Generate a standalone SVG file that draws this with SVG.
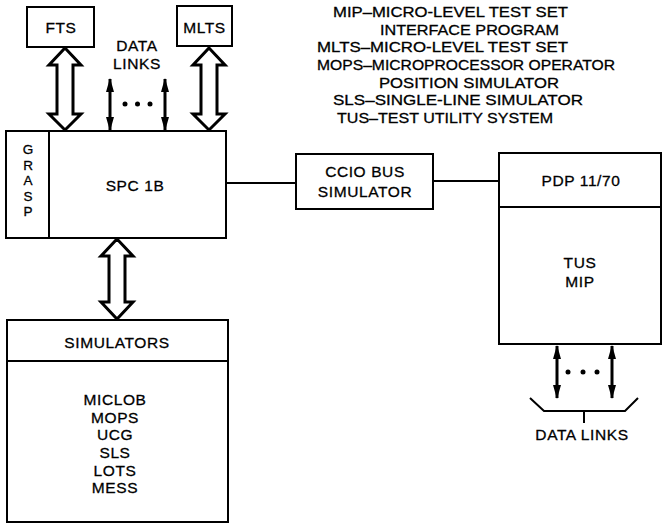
<svg xmlns="http://www.w3.org/2000/svg" width="662" height="524" viewBox="0 0 662 524">
<defs>
<marker id="ah" viewBox="0 0 14 9" refX="13" refY="4.5" markerWidth="14" markerHeight="9" markerUnits="userSpaceOnUse" orient="auto-start-reverse">
<path d="M0,0.5 L14,4.5 L0,8.5 Z" fill="#000"/>
</marker>
</defs>
<style>
.box{fill:#fff;stroke:#000;stroke-width:2}
.ln{fill:none;stroke:#000;stroke-width:2}
.harrow{fill:#fff;stroke:#000;stroke-width:3;stroke-linejoin:miter}
.dl{stroke:#000;stroke-width:3;fill:none}
text{font-family:"Liberation Sans",Arial,sans-serif;font-size:15.5px;letter-spacing:0.6px;fill:#000;stroke:#000;stroke-width:0.3}
.c{text-anchor:middle}
.g{font-size:13.5px;letter-spacing:0}
.lg{font-size:15px;letter-spacing:0}
.dot{fill:#000}
</style>
<rect width="662" height="524" fill="#fff"/>

<g id="connectors">
<path class="harrow" d="M65,48 L81,65 L73,65 L73,114 L81,114 L65,130 L49,114 L57,114 L57,65 L49,65 Z"/>
<path class="harrow" d="M209,48 L225,65 L217,65 L217,114 L225,114 L209,130 L193,114 L201,114 L201,65 L193,65 Z"/>
<path class="harrow" d="M117,239 L133,256 L125,256 L125,302 L133,302 L117,319 L101,302 L109,302 L109,256 L101,256 Z"/>
<line class="dl" x1="110" y1="79" x2="110" y2="130" marker-start="url(#ah)" marker-end="url(#ah)"/>
<line class="dl" x1="165" y1="79" x2="165" y2="130" marker-start="url(#ah)" marker-end="url(#ah)"/>
<circle class="dot" cx="125" cy="104" r="2.5"/>
<circle class="dot" cx="137.5" cy="104" r="2.5"/>
<circle class="dot" cx="150" cy="104" r="2.5"/>
<line class="ln" x1="226" y1="183" x2="296" y2="183"/>
<line class="ln" x1="433" y1="181" x2="499" y2="181"/>
<line class="dl" x1="557" y1="346" x2="557" y2="398" marker-start="url(#ah)" marker-end="url(#ah)"/>
<line class="dl" x1="612" y1="346" x2="612" y2="398" marker-start="url(#ah)" marker-end="url(#ah)"/>
<circle class="dot" cx="568" cy="372" r="2.5"/>
<circle class="dot" cx="583" cy="372" r="2.5"/>
<circle class="dot" cx="597" cy="372" r="2.5"/>
<polyline class="ln" points="530,398 544,411 625,411 638,398"/>
<line class="ln" x1="584" y1="411" x2="584" y2="423"/>
</g>

<g id="fts">
<rect class="box" x="27" y="7" width="67" height="40"/>
<text class="c" x="61" y="33">FTS</text>
</g>
<g id="mlts">
<rect class="box" x="177" y="6" width="55" height="40"/>
<text class="c" x="204.5" y="33">MLTS</text>
</g>
<g id="datalinks-top">
<text class="c" x="137" y="51">DATA</text>
<text class="c" x="137" y="69">LINKS</text>
</g>
<g id="spc">
<rect class="box" x="6" y="131" width="220" height="107"/>
<line class="ln" x1="49" y1="131" x2="49" y2="238"/>
<text class="c g" x="28" y="154">G</text>
<text class="c g" x="28" y="169.6">R</text>
<text class="c g" x="28" y="185.2">A</text>
<text class="c g" x="28" y="200.8">S</text>
<text class="c g" x="28" y="216.4">P</text>
<text class="c" x="135" y="191">SPC 1B</text>
</g>
<g id="simulators">
<rect class="box" x="7" y="320" width="221" height="202"/>
<line class="ln" x1="7" y1="361" x2="228" y2="361"/>
<text class="c" x="117" y="348">SIMULATORS</text>
<text class="c" x="115" y="405">MICLOB</text>
<text class="c" x="115" y="423">MOPS</text>
<text class="c" x="115" y="440">UCG</text>
<text class="c" x="115" y="458">SLS</text>
<text class="c" x="115" y="476">LOTS</text>
<text class="c" x="115" y="493">MESS</text>
</g>
<g id="ccio">
<rect class="box" x="296" y="154" width="137" height="55"/>
<text class="c" x="365" y="177">CCIO BUS</text>
<text class="c" x="365" y="197">SIMULATOR</text>
</g>
<g id="pdp">
<rect class="box" x="499" y="153" width="162" height="191"/>
<line class="ln" x1="499" y1="207" x2="661" y2="207"/>
<text class="c" x="581" y="186">PDP 11/70</text>
<text class="c" x="580" y="268">TUS</text>
<text class="c" x="580" y="287">MIP</text>
</g>
<g id="datalinks-bottom">
<text class="c" x="582" y="440">DATA LINKS</text>
</g>
<g id="legend">
<text class="lg" x="333" y="17" textLength="235" lengthAdjust="spacingAndGlyphs">MIP–MICRO-LEVEL TEST SET</text>
<text class="lg" x="380" y="35" textLength="179" lengthAdjust="spacingAndGlyphs">INTERFACE PROGRAM</text>
<text class="lg" x="317" y="52" textLength="251" lengthAdjust="spacingAndGlyphs">MLTS–MICRO-LEVEL TEST SET</text>
<text class="lg" x="317" y="70" textLength="298" lengthAdjust="spacingAndGlyphs">MOPS–MICROPROCESSOR OPERATOR</text>
<text class="lg" x="379" y="88" textLength="180" lengthAdjust="spacingAndGlyphs">POSITION SIMULATOR</text>
<text class="lg" x="333" y="105" textLength="250" lengthAdjust="spacingAndGlyphs">SLS–SINGLE-LINE SIMULATOR</text>
<text class="lg" x="337" y="123" textLength="216" lengthAdjust="spacingAndGlyphs">TUS–TEST UTILITY SYSTEM</text>
</g>
</svg>
